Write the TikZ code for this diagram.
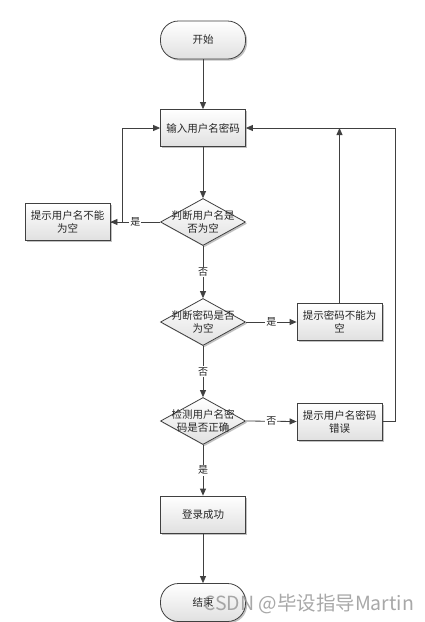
\documentclass[tikz,border=0pt]{standalone}
\usepackage{fontspec}
\newfontfamily\cjk{Noto Sans CJK SC}
\usetikzlibrary{shapes.geometric,arrows.meta,shadows}
\begin{document}
\begin{tikzpicture}[x=1pt,y=-1pt,
  font=\cjk\fontsize{10.5}{13}\selectfont,
  every node/.style={text=black!85},
  boxfill/.style={top color=white, bottom color=black!12, draw=black!75, line width=0.8pt,
     drop shadow={shadow xshift=1.6pt, shadow yshift=-1.6pt, fill=black!40, opacity=0.6}},
  procbox/.style={boxfill, rectangle, minimum width=85pt, minimum height=37pt, inner sep=1pt, align=center},
  termbox/.style={boxfill, rectangle, rounded corners=18pt, minimum width=85pt, minimum height=38pt, inner sep=1pt},
  decbox/.style={boxfill, diamond, minimum width=85pt, minimum height=47pt, inner sep=0pt},
  dectext/.style={align=center, inner sep=0pt},
  conn/.style={draw=black!75, line width=0.8pt},
  arr/.style={conn, -{Triangle[length=7pt,width=6pt]}},
  lbl/.style={fill=white, inner sep=1pt, font=\cjk\fontsize{10}{12}\selectfont}
]
\useasboundingbox (0,0) rectangle (424,622);
\fill[white] (0,0) rectangle (424,622);

\node[termbox] (start) at (203,40) {开始};
\node[procbox] (input) at (203,128) {输入用户名密码};
\node[decbox] (d1) at (203,222) {};
\node[dectext] (d1t) at (d1.center) {判断用户名是\\否为空};
\node[procbox] (lbox) at (67.5,222) {提示用户名不能\\为空};
\node[decbox] (d2) at (203,322) {};
\node[dectext] (d2t) at (d2.center) {判断密码是否\\为空};
\node[procbox] (rb1) at (339.5,322) {提示密码不能为\\空};
\node[decbox] (d3) at (203,421) {};
\node[dectext] (d3t) at (d3.center) {检测用户名密\\码是否正确};
\node[procbox] (rb2) at (339.5,421.5) {提示用户名密码\\错误};
\node[procbox] (succ) at (203,514.5) {登录成功};
\node[termbox] (end) at (203,602.5) {结束};

\coordinate (j1) at (122,222);
\coordinate (m1) at (339.5,128);
\coordinate (j2) at (395,421.5);

\draw[arr] (start) -- (input);
\draw[arr] (input) -- (d1);
\draw[arr] (d1.west) -- node[lbl] {是} (lbox.east);
\draw[arr] (lbox.east) -- (j1) |- (input.west);
\draw[arr] (d1.south) -- node[lbl] {否} (d2.north);
\draw[arr] (d2.east) -- node[lbl] {是} (rb1.west);
\draw[arr] (rb1.north) -- (m1);
\draw[arr] (d2.south) -- node[lbl] {否} (d3.north);
\draw[arr] (d3.east) -- node[lbl] {否} (rb2.west);
\draw[arr] (rb2.east) -- (j2) |- (input.east);
\draw[arr] (d3.south) -- node[lbl] {是} (succ.north);
\draw[arr] (succ) -- (end);

\node[text=black!40, opacity=0.85, font=\cjk\fontsize{19.5}{22}\selectfont, anchor=west, inner sep=0pt] (wm) at (203,604) {CSDN @毕设指导Martin};
\end{tikzpicture}
\end{document}
